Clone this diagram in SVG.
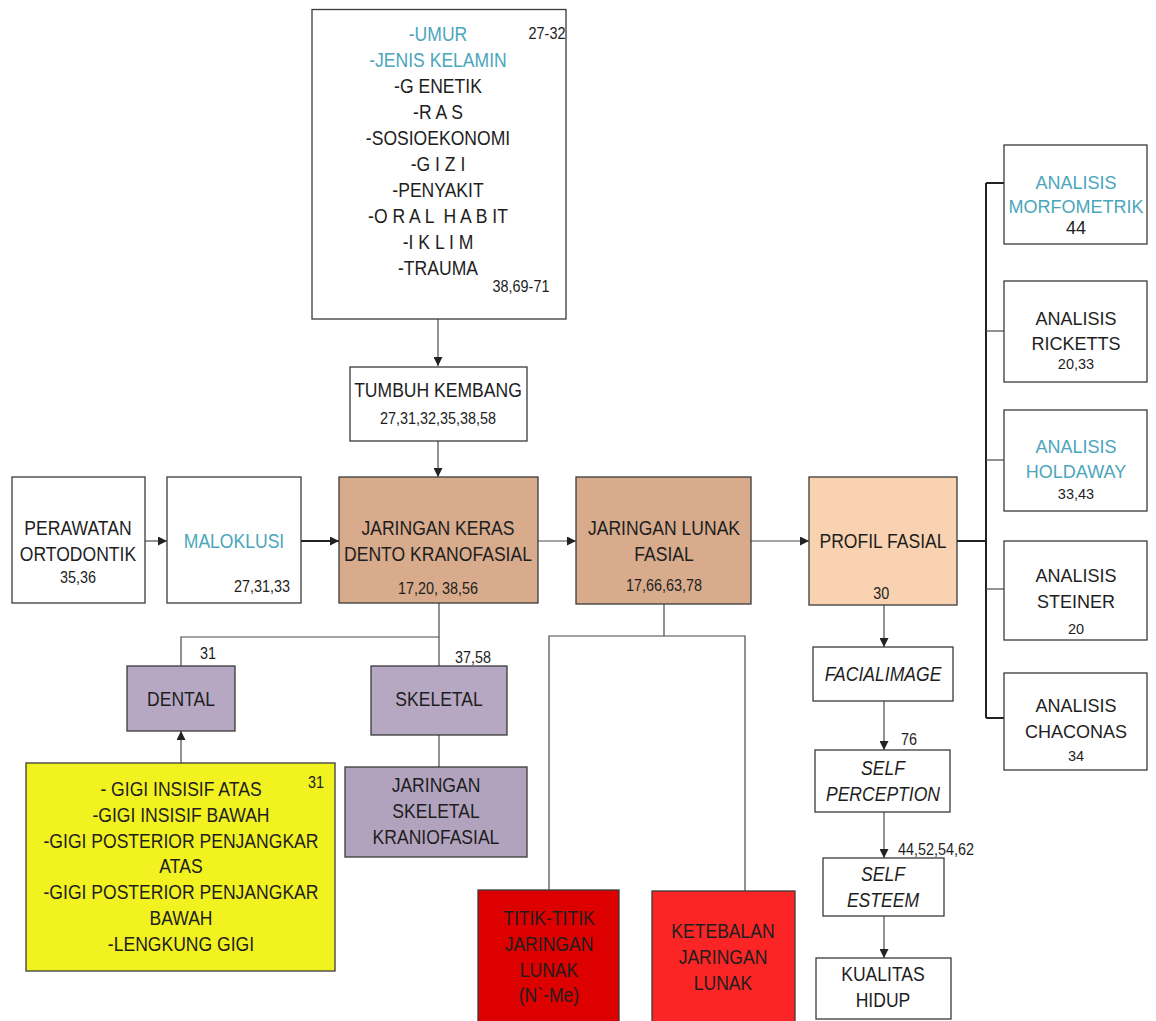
<svg xmlns="http://www.w3.org/2000/svg" width="1156" height="1021" viewBox="0 0 1156 1021">
<style>
text{font-family:"Liberation Sans",Arial,sans-serif;fill:#1e1e1e;text-anchor:middle;white-space:pre}
.t{font-size:19.5px}
.n{font-size:16px}
.r{font-size:18px}
.rn{font-size:14.5px}
.c{fill:#4ba6bb}
.i{font-style:italic}
.box{stroke:#3a3a3a;stroke-width:1.3}
.w{fill:#fff}
.ln{fill:none;stroke:#4a4a4a;stroke-width:1.2}
.lk{fill:none;stroke:#222;stroke-width:2}
</style>
<defs>
<marker id="ah" viewBox="0 0 10 10" refX="10" refY="5" markerWidth="9" markerHeight="9" markerUnits="userSpaceOnUse" orient="auto">
<path d="M0,0 L10,5 L0,10 z" fill="#222"/>
</marker>
</defs>
<rect width="1156" height="1021" fill="#fff"/>

<g id="connectors">
<line class="ln" x1="438" y1="319" x2="438" y2="366" marker-end="url(#ah)"/>
<line class="ln" x1="438" y1="441" x2="438" y2="477" marker-end="url(#ah)"/>
<line class="ln" x1="145" y1="541" x2="167" y2="541" marker-end="url(#ah)"/>
<line class="lk" x1="301" y1="541" x2="339" y2="541" marker-end="url(#ah)"/>
<line class="ln" x1="538" y1="541" x2="576" y2="541" marker-end="url(#ah)"/>
<line class="ln" x1="751" y1="541" x2="809" y2="541" marker-end="url(#ah)"/>
<line class="lk" x1="957" y1="541" x2="986" y2="541"/>
<line class="lk" x1="986" y1="183" x2="986" y2="718"/>
<line class="lk" x1="986" y1="183" x2="1004" y2="183"/>
<line class="ln" x1="986" y1="331" x2="1004" y2="331"/>
<line class="ln" x1="986" y1="460" x2="1004" y2="460"/>
<line class="ln" x1="986" y1="589" x2="1004" y2="589"/>
<line class="lk" x1="986" y1="718" x2="1004" y2="718"/>
<polyline class="ln" points="439,603 439,637 181,637 181,666"/>
<line class="ln" x1="439" y1="637" x2="439" y2="666"/>
<line class="ln" x1="439" y1="735" x2="439" y2="767"/>
<line class="ln" x1="181" y1="763" x2="181" y2="731" marker-end="url(#ah)"/>
<polyline class="ln" points="664,604 664,636"/>
<polyline class="ln" points="549,890 549,636 745,636 745,891"/>
<line class="ln" x1="884" y1="605" x2="884" y2="647" marker-end="url(#ah)"/>
<line class="ln" x1="884" y1="701" x2="884" y2="750" marker-end="url(#ah)"/>
<line class="ln" x1="884" y1="812" x2="884" y2="858" marker-end="url(#ah)"/>
<line class="ln" x1="884" y1="916" x2="884" y2="958" marker-end="url(#ah)"/>
</g>

<g id="faktor">
<rect class="box w" x="312" y="9.5" width="254" height="309.5"/>
<g transform="matrix(.9 0 0 1 43.8 0)">
<text class="t c" x="438" y="41">-UMUR</text>
<text class="t c" x="438" y="67">-JENIS KELAMIN</text>
<text class="t" x="438" y="93">-G ENETIK</text>
<text class="t" x="438" y="119">-R A S</text>
<text class="t" x="438" y="145">-SOSIOEKONOMI</text>
<text class="t" x="438" y="171">-G I Z I</text>
<text class="t" x="438" y="197">-PENYAKIT</text>
<text class="t" x="438" y="223">-O R A L  H A B IT</text>
<text class="t" x="438" y="249">-I K L I M</text>
<text class="t" x="438" y="275">-TRAUMA</text>
</g>
<text class="n" x="547" y="39.5" transform="matrix(.9 0 0 1 54.7 0)">27-32</text>
<text class="n" x="521" y="292.5" transform="matrix(.9 0 0 1 52.1 0)">38,69-71</text>
</g>

<g id="tumbuh">
<rect class="box w" x="350" y="367" width="177" height="74"/>
<g transform="matrix(.9 0 0 1 43.8 0)">
<text class="t" x="438" y="397">TUMBUH KEMBANG</text>
<text class="n" x="438" y="424">27,31,32,35,38,58</text>
</g>
</g>

<g id="perawatan">
<rect class="box w" x="12" y="477" width="133" height="126"/>
<g transform="matrix(.9 0 0 1 7.8 0)">
<text class="t" x="78" y="535">PERAWATAN</text>
<text class="t" x="78" y="561">ORTODONTIK</text>
<text class="n" x="78" y="583">35,36</text>
</g>
</g>

<g id="maloklusi">
<rect class="box w" x="167" y="477" width="134" height="126"/>
<text class="t c" x="234" y="548" transform="matrix(.9 0 0 1 23.4 0)">MALOKLUSI</text>
<text class="n" x="262" y="592" transform="matrix(.9 0 0 1 26.2 0)">27,31,33</text>
</g>

<g id="keras">
<rect class="box" x="339" y="477" width="199" height="126" fill="#d7ab8c"/>
<g transform="matrix(.9 0 0 1 43.8 0)">
<text class="t" x="438" y="535">JARINGAN KERAS</text>
<text class="t" x="438" y="561">DENTO KRANOFASIAL</text>
<text class="n" x="438" y="594">17,20, 38,56</text>
</g>
</g>

<g id="lunak">
<rect class="box" x="576" y="477" width="175" height="127" fill="#d7ab8c"/>
<g transform="matrix(.9 0 0 1 66.4 0)">
<text class="t" x="664" y="535">JARINGAN LUNAK</text>
<text class="t" x="664" y="561">FASIAL</text>
<text class="n" x="664" y="591">17,66,63,78</text>
</g>
</g>

<g id="profil">
<rect class="box" x="809" y="477" width="148" height="128" fill="#f9d3b1"/>
<g transform="matrix(.9 0 0 1 88.3 0)">
<text class="t" x="883" y="548">PROFIL FASIAL</text>
<text class="n" x="881" y="599">30</text>
</g>
</g>

<g id="morfometrik">
<rect class="box w" x="1004" y="145" width="143" height="99"/>
<text class="r c" x="1076" y="189">ANALISIS</text>
<text class="r c" x="1076" y="213">MORFOMETRIK</text>
<text class="r" x="1076" y="234">44</text>
</g>
<g id="ricketts">
<rect class="box w" x="1004" y="281" width="143" height="101"/>
<text class="r" x="1076" y="325">ANALISIS</text>
<text class="r" x="1076" y="350">RICKETTS</text>
<text class="rn" x="1076" y="369">20,33</text>
</g>
<g id="holdaway">
<rect class="box w" x="1004" y="410" width="143" height="101"/>
<text class="r c" x="1076" y="453">ANALISIS</text>
<text class="r c" x="1076" y="478">HOLDAWAY</text>
<text class="rn" x="1076" y="499">33,43</text>
</g>
<g id="steiner">
<rect class="box w" x="1004" y="541" width="143" height="99"/>
<text class="r" x="1076" y="582">ANALISIS</text>
<text class="r" x="1076" y="608">STEINER</text>
<text class="rn" x="1076" y="634">20</text>
</g>
<g id="chaconas">
<rect class="box w" x="1004" y="673" width="143" height="97"/>
<text class="r" x="1076" y="712">ANALISIS</text>
<text class="r" x="1076" y="738">CHACONAS</text>
<text class="rn" x="1076" y="761">34</text>
</g>

<g id="dental">
<rect class="box" x="127" y="666" width="108" height="65" fill="#b6a8c3"/>
<text class="t" x="181" y="706" transform="matrix(.9 0 0 1 18.1 0)">DENTAL</text>
<text class="n" x="208" y="659" transform="matrix(.9 0 0 1 20.8 0)">31</text>
</g>
<g id="skeletal">
<rect class="box" x="371" y="666" width="136" height="69" fill="#b6a8c3"/>
<text class="t" x="439" y="706" transform="matrix(.9 0 0 1 43.9 0)">SKELETAL</text>
<text class="n" x="473" y="663" transform="matrix(.9 0 0 1 47.3 0)">37,58</text>
</g>
<g id="jaringan-skeletal">
<rect class="box" x="345" y="767" width="182" height="90" fill="#b1a3be"/>
<g transform="matrix(.9 0 0 1 43.6 0)">
<text class="t" x="436" y="792">JARINGAN</text>
<text class="t" x="436" y="818">SKELETAL</text>
<text class="t" x="436" y="844">KRANIOFASIAL</text>
</g>
</g>

<g id="gigi">
<rect class="box" x="26" y="763" width="309" height="208" fill="#f2f220"/>
<text class="n" x="316" y="788" transform="matrix(.9 0 0 1 31.6 0)">31</text>
<g transform="matrix(.9 0 0 1 18.1 0)">
<text class="t" x="181" y="796">- GIGI INSISIF ATAS</text>
<text class="t" x="181" y="822">-GIGI INSISIF BAWAH</text>
<text class="t" x="181" y="848">-GIGI POSTERIOR PENJANGKAR</text>
<text class="t" x="181" y="873">ATAS</text>
<text class="t" x="181" y="899">-GIGI POSTERIOR PENJANGKAR</text>
<text class="t" x="181" y="925">BAWAH</text>
<text class="t" x="181" y="951">-LENGKUNG GIGI</text>
</g>
</g>

<g id="titik">
<rect class="box" x="478" y="890" width="141" height="135" fill="#dc0000"/>
<g transform="matrix(.9 0 0 1 54.9 0)">
<text class="t" x="549" y="925">TITIK-TITIK</text>
<text class="t" x="549" y="951">JARINGAN</text>
<text class="t" x="549" y="977">LUNAK</text>
<text class="t" x="549" y="1002">(N`-Me)</text>
</g>
</g>
<g id="ketebalan">
<rect class="box" x="652" y="891" width="143" height="135" fill="#fb2525"/>
<g transform="matrix(.9 0 0 1 72.3 0)">
<text class="t" x="723" y="938">KETEBALAN</text>
<text class="t" x="723" y="964">JARINGAN</text>
<text class="t" x="723" y="990">LUNAK</text>
</g>
</g>

<g id="facialimage">
<rect class="box w" x="813" y="647" width="140" height="54"/>
<text class="t i" x="883" y="681" transform="matrix(.9 0 0 1 88.3 0)">FACIALIMAGE</text>
</g>
<text class="n" x="909" y="745.5" transform="matrix(.9 0 0 1 90.9 0)">76</text>
<g id="selfperception">
<rect class="box w" x="815" y="750" width="135" height="62"/>
<g transform="matrix(.9 0 0 1 88.3 0)">
<text class="t i" x="883" y="775">SELF</text>
<text class="t i" x="883" y="801">PERCEPTION</text>
</g>
</g>
<text class="n" x="936" y="855.5" transform="matrix(.9 0 0 1 93.6 0)">44,52,54,62</text>
<g id="selfesteem">
<rect class="box w" x="823" y="858" width="121" height="58"/>
<g transform="matrix(.9 0 0 1 88.3 0)">
<text class="t i" x="883" y="881">SELF</text>
<text class="t i" x="883" y="907">ESTEEM</text>
</g>
</g>
<g id="kualitas">
<rect class="box w" x="816" y="958" width="135" height="61"/>
<g transform="matrix(.9 0 0 1 88.3 0)">
<text class="t" x="883" y="981">KUALITAS</text>
<text class="t" x="883" y="1007">HIDUP</text>
</g>
</g>
</svg>
